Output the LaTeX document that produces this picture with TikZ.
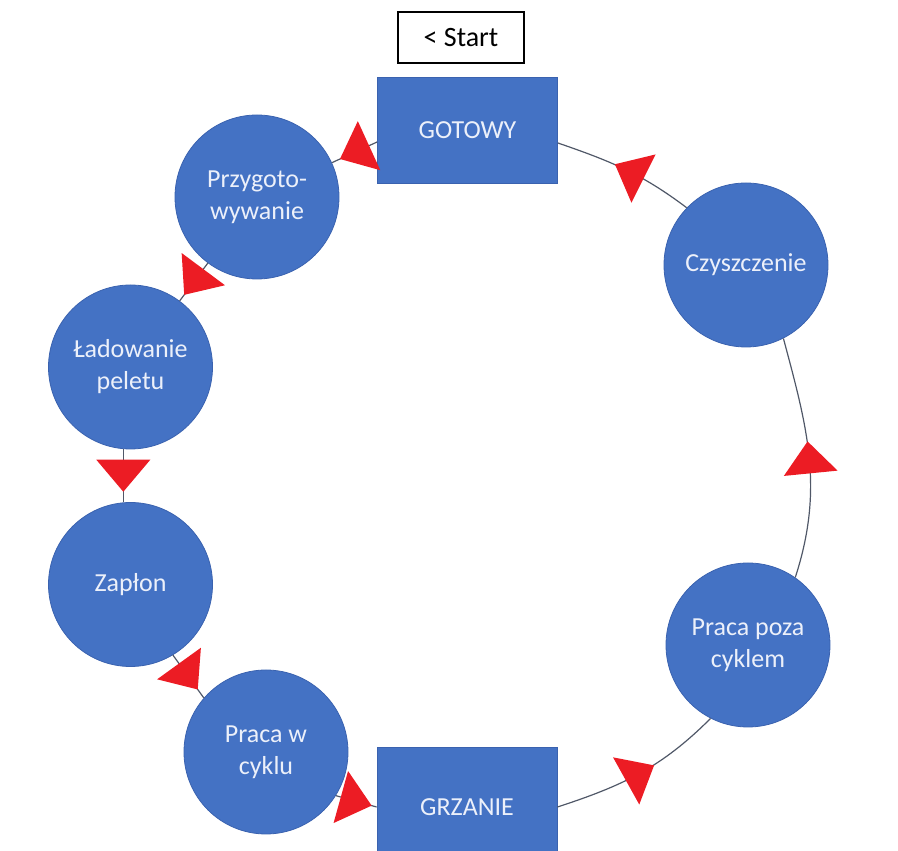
\documentclass[tikz,border=0pt]{standalone}
\usepackage{fontspec}
\setmainfont{Carlito}
\usetikzlibrary{decorations.markings}
\definecolor{boxblue}{RGB}{68,114,196}
\definecolor{boxedge}{RGB}{58,98,175}
\definecolor{txtwhite}{RGB}{236,240,250}
\definecolor{linegray}{RGB}{80,88,104}
\definecolor{arrowred}{RGB}{236,28,36}
\begin{document}
\begin{tikzpicture}[x=1pt,y=1pt,
  statecirc/.style={circle,fill=boxblue,draw=boxedge,line width=0.8pt,minimum size=164pt,inner sep=0pt,
    text=txtwhite,align=center,font=\fontsize{26}{32}\selectfont},
  statebox/.style={rectangle,fill=boxblue,draw=boxedge,line width=0.8pt,minimum width=180pt,
    text=txtwhite,align=center,font=\fontsize{26}{32}\selectfont},
  startbox/.style={rectangle,draw=black,line width=1.3pt,fill=white,minimum width=126pt,minimum height=51pt,
    inner sep=0pt,font=\fontsize{28}{32}\selectfont},
  flow/.style={draw=linegray,line width=1.2pt,
    decoration={markings,mark=at position #1 with {\fill[arrowred] (16,0) -- (-16,27) -- (-16,-27) -- cycle;}},
    postaction=decorate},
  flow/.default=0.5]
\useasboundingbox (0,0) rectangle (898,851);
\node[startbox] (start) at (461,813.5) {< Start};
\node[statebox,minimum height=106pt] (gotowy) at (467.5,721) {GOTOWY};
\node[statecirc] (przyg) at (257,654) {Przygoto-\\wywanie};
\node[statecirc] (lad) at (130.5,484) {Ładowanie\\peletu};
\node[statecirc] (zap) at (130.5,266.5) {Zapłon};
\node[statecirc] (pwc) at (266,99) {Praca w\\cyklu};
\node[statebox,minimum height=120pt] (grz) at (467,44) {GRZANIE};
\node[statecirc] (ppc) at (748,206) {Praca poza\\cyklem};
\node[statecirc] (czy) at (746,586) {Czyszczenie};

\path[flow] ([yshift=-12pt]gotowy.west) -- (przyg);
\path[flow] (przyg) -- (lad);
\path[flow] (lad.-95) -- (zap.95);
\path[flow] (zap.-59) -- (pwc.139);
\path[flow] (pwc.-32) -- (grz.west);
\path[flow] (grz.east) to[out=18,in=225] (ppc.-117);
\path[flow] (ppc.55) to[out=72,in=-75] (czy.-63);
\path[flow=0.47] (czy.136) to[out=143,in=-19] ([yshift=-13pt]gotowy.east);
\end{tikzpicture}
\end{document}
